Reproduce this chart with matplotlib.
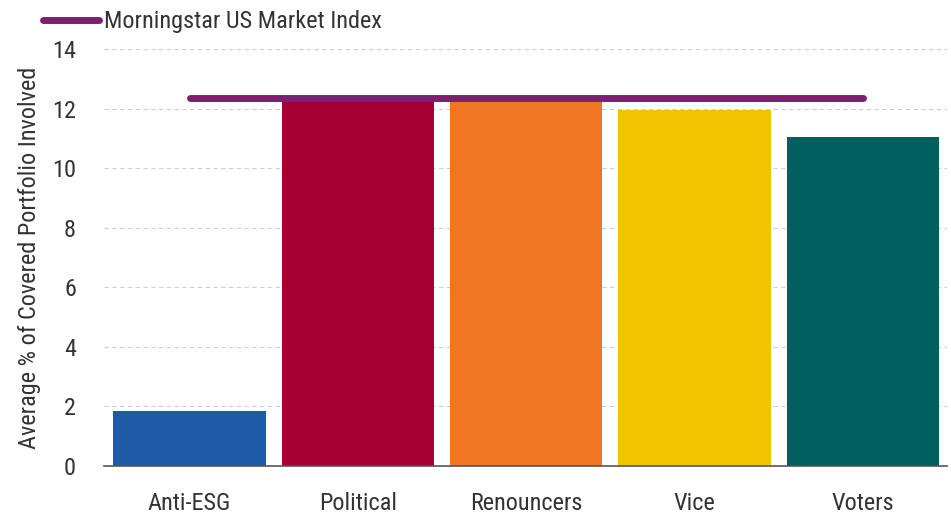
import numpy as np
import matplotlib.pyplot as plt
from matplotlib import font_manager as fm

categorias = ["Anti-ESG", "Political", "Renouncers", "Vice", "Voters"]
valores = [1.85, 12.3, 12.3, 11.95, 11.05]
cores = ["#1F5AA6", "#A50034", "#EF7622", "#F3C300", "#00605F"]
indice_nome = "Morningstar US Market Index"
indice_valor = 12.35
yticks = [0, 2, 4, 6, 8, 10, 12, 14]

# fonte condensada parecida com a do original
disponiveis = {f.name for f in fm.fontManager.ttflist}
preferidas = ["Roboto Condensed", "Liberation Sans Narrow", "Archivo Narrow",
              "Asap Condensed", "Barlow Semi Condensed"]
fonte = next((f for f in preferidas if f in disponiveis), "DejaVu Sans")
plt.rcParams['font.family'] = [fonte, 'DejaVu Sans']
texto = "#333333"
tam = 17.5

fig = plt.figure(figsize=(9.51, 5.18), dpi=100)
ax = fig.add_axes([0.109, 0.1004, 0.8868, 0.805])

x = np.arange(len(categorias))
ax.bar(x, valores, width=0.905, color=cores, zorder=2)
linha, = ax.plot([x[0], x[-1]], [indice_valor, indice_valor], color="#7A2070",
                 lw=5, solid_capstyle='round', zorder=3)

ax.set_xlim(-0.51, 4.5)
ax.set_ylim(0, 14)
ax.set_yticks(yticks)
ax.set_xticks(x)
ax.set_xticklabels(categorias)
ax.yaxis.grid(True, color="#cfcfcf", linestyle=(0, (4, 3)), lw=0.8, zorder=0)
for s in ["top", "right", "left"]:
    ax.spines[s].set_visible(False)
ax.spines["bottom"].set_color("#555555")
ax.spines["bottom"].set_linewidth(1.2)
ax.tick_params(axis='both', length=0, labelsize=tam, colors=texto)
ax.tick_params(axis='x', pad=19)
ax.tick_params(axis='y', pad=20)
ax.set_ylabel("Average % of Covered Portfolio Involved", fontsize=tam, color=texto, labelpad=8)

fig.legend([linha], [indice_nome], loc='upper left', bbox_to_anchor=(0.022, 1.022),
           frameon=False, fontsize=tam, handlelength=2.3, handletextpad=0.2,
           labelcolor=texto)

fig.savefig("out.png", dpi=100)
